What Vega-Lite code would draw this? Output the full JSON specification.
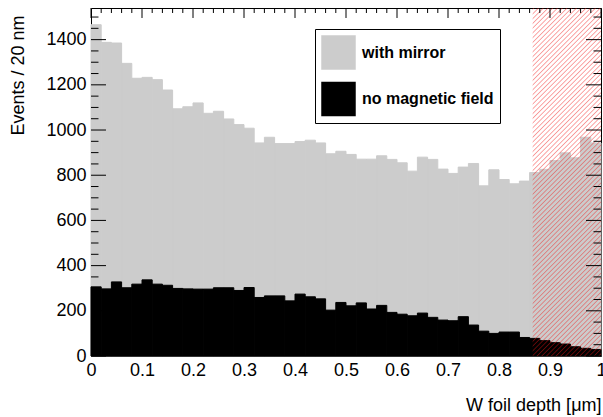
{
  "$schema": "https://vega.github.io/schema/vega-lite/v6.json",
  "autosize": {"type": "none"},
  "padding": {"left": 91, "top": 8, "right": 2, "bottom": 61},
  "width": 510,
  "height": 348,
  "config": {
    "view": {"stroke": null},
    "font": "Liberation Sans",
    "axis": {"labelFont": "Liberation Sans", "titleFont": "Liberation Sans", "labelColor": "black", "titleColor": "black", "domainColor": "black", "tickColor": "black", "tickWidth": 1, "domainWidth": 1, "grid": false}
  },
  "datasets": {
    "h": [
      {"a":0.00,"b":0.02,"m":1466,"f":306},
      {"a":0.02,"b":0.04,"m":1388,"f":297},
      {"a":0.04,"b":0.06,"m":1385,"f":328},
      {"a":0.06,"b":0.08,"m":1295,"f":302},
      {"a":0.08,"b":0.10,"m":1229,"f":318},
      {"a":0.10,"b":0.12,"m":1233,"f":337},
      {"a":0.12,"b":0.14,"m":1223,"f":318},
      {"a":0.14,"b":0.16,"m":1177,"f":313},
      {"a":0.16,"b":0.18,"m":1094,"f":299},
      {"a":0.18,"b":0.20,"m":1103,"f":297},
      {"a":0.20,"b":0.22,"m":1120,"f":296},
      {"a":0.22,"b":0.24,"m":1074,"f":296},
      {"a":0.24,"b":0.26,"m":1083,"f":302},
      {"a":0.26,"b":0.28,"m":1049,"f":302},
      {"a":0.28,"b":0.30,"m":1024,"f":290},
      {"a":0.30,"b":0.32,"m":1008,"f":303},
      {"a":0.32,"b":0.34,"m":943,"f":259},
      {"a":0.34,"b":0.36,"m":968,"f":266},
      {"a":0.36,"b":0.38,"m":940,"f":266},
      {"a":0.38,"b":0.40,"m":940,"f":244},
      {"a":0.40,"b":0.42,"m":949,"f":274},
      {"a":0.42,"b":0.44,"m":955,"f":262},
      {"a":0.44,"b":0.46,"m":943,"f":253},
      {"a":0.46,"b":0.48,"m":895,"f":203},
      {"a":0.48,"b":0.50,"m":906,"f":237},
      {"a":0.50,"b":0.52,"m":892,"f":222},
      {"a":0.52,"b":0.54,"m":871,"f":235},
      {"a":0.54,"b":0.56,"m":871,"f":208},
      {"a":0.56,"b":0.58,"m":886,"f":224},
      {"a":0.58,"b":0.60,"m":870,"f":193},
      {"a":0.60,"b":0.62,"m":855,"f":185},
      {"a":0.62,"b":0.64,"m":818,"f":178},
      {"a":0.64,"b":0.66,"m":880,"f":190},
      {"a":0.66,"b":0.68,"m":870,"f":171},
      {"a":0.68,"b":0.70,"m":827,"f":159},
      {"a":0.70,"b":0.72,"m":808,"f":156},
      {"a":0.72,"b":0.74,"m":836,"f":174},
      {"a":0.74,"b":0.76,"m":852,"f":137},
      {"a":0.76,"b":0.78,"m":753,"f":110},
      {"a":0.78,"b":0.80,"m":824,"f":100},
      {"a":0.80,"b":0.82,"m":781,"f":106},
      {"a":0.82,"b":0.84,"m":762,"f":106},
      {"a":0.84,"b":0.86,"m":774,"f":82},
      {"a":0.86,"b":0.88,"m":812,"f":78},
      {"a":0.88,"b":0.90,"m":826,"f":68},
      {"a":0.90,"b":0.92,"m":865,"f":59},
      {"a":0.92,"b":0.94,"m":899,"f":53},
      {"a":0.94,"b":0.96,"m":877,"f":41},
      {"a":0.96,"b":0.98,"m":968,"f":34},
      {"a":0.98,"b":1.00,"m":943,"f":29}
    ],
    "xMaj": [{"v":0},{"v":0.1},{"v":0.2},{"v":0.3},{"v":0.4},{"v":0.5},{"v":0.6},{"v":0.7},{"v":0.8},{"v":0.9},{"v":1}],
    "xMin": [{"v":0.02},{"v":0.04},{"v":0.06},{"v":0.08},{"v":0.12},{"v":0.14},{"v":0.16},{"v":0.18},{"v":0.22},{"v":0.24},{"v":0.26},{"v":0.28},{"v":0.32},{"v":0.34},{"v":0.36},{"v":0.38},{"v":0.42},{"v":0.44},{"v":0.46},{"v":0.48},{"v":0.52},{"v":0.54},{"v":0.56},{"v":0.58},{"v":0.62},{"v":0.64},{"v":0.66},{"v":0.68},{"v":0.72},{"v":0.74},{"v":0.76},{"v":0.78},{"v":0.82},{"v":0.84},{"v":0.86},{"v":0.88},{"v":0.92},{"v":0.94},{"v":0.96},{"v":0.98}],
    "yMaj": [{"v":0},{"v":200},{"v":400},{"v":600},{"v":800},{"v":1000},{"v":1200},{"v":1400}],
    "yMin": [{"v":50},{"v":100},{"v":150},{"v":250},{"v":300},{"v":350},{"v":450},{"v":500},{"v":550},{"v":650},{"v":700},{"v":750},{"v":850},{"v":900},{"v":950},{"v":1050},{"v":1100},{"v":1150},{"v":1250},{"v":1300},{"v":1350},{"v":1450},{"v":1500}]
  },
  "resolve": {"axis": {"x": "independent", "y": "independent"}},
  "layer": [
    {
      "data": {"name": "h"},
      "mark": {"type": "bar", "stroke": "#cccccc", "strokeWidth": 1},
      "encoding": {
        "x": {"field": "a", "type": "quantitative", "scale": {"domain": [0, 1], "nice": false, "zero": false},
          "axis": {"orient": "bottom", "values": [0,0.1,0.2,0.3,0.4,0.5,0.6,0.7,0.8,0.9,1], "format": "~g", "ticks": false, "domain": true, "labelFontSize": 18, "labelPadding": 5, "labelFlush": false, "labelOverlap": false,
            "title": "W foil depth [μm]", "titleFontSize": 18, "titleFontWeight": "normal", "titleAnchor": "end", "titleAlign": "right", "titleBaseline": "middle", "titleX": 510, "titleY": 49}},
        "x2": {"field": "b"},
        "y": {"field": "m", "type": "quantitative", "scale": {"domain": [0, 1540], "nice": false, "zero": false},
          "axis": {"orient": "left", "values": [0,200,400,600,800,1000,1200,1400], "format": "d", "ticks": false, "domain": true, "labelFontSize": 18, "labelPadding": 5, "labelFlush": false, "labelOverlap": false,
            "title": "Events / 20 nm", "titleFontSize": 18, "titleFontWeight": "normal", "titleAngle": -90, "titleAlign": "right", "titleBaseline": "middle", "titleX": -73, "titleY": 7}},
        "y2": {"datum": 0},
        "color": {"datum": "with mirror", "type": "nominal",
          "scale": {"domain": ["with mirror", "no magnetic field"], "range": ["#cccccc", "#000000"]},
          "legend": {"orient": "none", "legendX": 224, "legendY": 21, "title": null, "symbolType": "square", "symbolSize": 1190, "symbolStrokeWidth": 0, "symbolOpacity": 1,
            "labelFont": "Liberation Sans", "labelFontSize": 16, "labelFontWeight": "bold", "labelColor": "black", "labelOffset": 6, "rowPadding": 11.5,
            "padding": 6, "strokeColor": "black", "fillColor": "white", "cornerRadius": 0, "zindex": 2}}
      }
    },
    {
      "data": {"name": "h"},
      "mark": {"type": "bar", "stroke": "#000000", "strokeWidth": 1},
      "encoding": {
        "x": {"field": "a", "type": "quantitative",
          "axis": {"orient": "top", "labels": false, "domain": true, "ticks": false, "title": null}},
        "x2": {"field": "b"},
        "y": {"field": "f", "type": "quantitative",
          "axis": {"orient": "right", "labels": false, "domain": true, "ticks": false, "title": null}},
        "y2": {"datum": 0},
        "color": {"datum": "no magnetic field", "type": "nominal"}
      }
    },
    {
      "data": {"name": "h"},
      "transform": [{"filter": "datum.a == 0"}],
      "mark": {"type": "rect", "fill": {"gradient": "linear", "x1": 0, "y1": 0, "x2": 0.2261, "y2": 1.152, "stops": [
        {"offset":0,"color":"rgba(255,0,0,0)"},{"offset":0.00285,"color":"rgba(235,30,30,0.45)"},{"offset":0.0057,"color":"rgba(255,0,0,0)"},
        {"offset":0.0114,"color":"rgba(255,0,0,0)"},{"offset":0.01425,"color":"rgba(235,30,30,0.45)"},{"offset":0.0171,"color":"rgba(255,0,0,0)"},
        {"offset":0.0228,"color":"rgba(255,0,0,0)"},{"offset":0.02565,"color":"rgba(235,30,30,0.45)"},{"offset":0.0285,"color":"rgba(255,0,0,0)"},
        {"offset":0.0342,"color":"rgba(255,0,0,0)"},{"offset":0.03705,"color":"rgba(235,30,30,0.45)"},{"offset":0.0399,"color":"rgba(255,0,0,0)"},
        {"offset":0.0456,"color":"rgba(255,0,0,0)"},{"offset":0.04845,"color":"rgba(235,30,30,0.45)"},{"offset":0.0513,"color":"rgba(255,0,0,0)"},
        {"offset":0.057,"color":"rgba(255,0,0,0)"},{"offset":0.05985,"color":"rgba(235,30,30,0.45)"},{"offset":0.0627,"color":"rgba(255,0,0,0)"},
        {"offset":0.0684,"color":"rgba(255,0,0,0)"},{"offset":0.07125,"color":"rgba(235,30,30,0.45)"},{"offset":0.0741,"color":"rgba(255,0,0,0)"},
        {"offset":0.0798,"color":"rgba(255,0,0,0)"},{"offset":0.08265,"color":"rgba(235,30,30,0.45)"},{"offset":0.0855,"color":"rgba(255,0,0,0)"},
        {"offset":0.0912,"color":"rgba(255,0,0,0)"},{"offset":0.09405,"color":"rgba(235,30,30,0.45)"},{"offset":0.0969,"color":"rgba(255,0,0,0)"},
        {"offset":0.1026,"color":"rgba(255,0,0,0)"},{"offset":0.10545,"color":"rgba(235,30,30,0.45)"},{"offset":0.1083,"color":"rgba(255,0,0,0)"},
        {"offset":0.114,"color":"rgba(255,0,0,0)"},{"offset":0.11685,"color":"rgba(235,30,30,0.45)"},{"offset":0.1197,"color":"rgba(255,0,0,0)"},
        {"offset":0.1254,"color":"rgba(255,0,0,0)"},{"offset":0.12825,"color":"rgba(235,30,30,0.45)"},{"offset":0.1311,"color":"rgba(255,0,0,0)"},
        {"offset":0.1368,"color":"rgba(255,0,0,0)"},{"offset":0.13965,"color":"rgba(235,30,30,0.45)"},{"offset":0.1425,"color":"rgba(255,0,0,0)"},
        {"offset":0.1482,"color":"rgba(255,0,0,0)"},{"offset":0.15105,"color":"rgba(235,30,30,0.45)"},{"offset":0.1539,"color":"rgba(255,0,0,0)"},
        {"offset":0.1596,"color":"rgba(255,0,0,0)"},{"offset":0.16245,"color":"rgba(235,30,30,0.45)"},{"offset":0.1653,"color":"rgba(255,0,0,0)"},
        {"offset":0.171,"color":"rgba(255,0,0,0)"},{"offset":0.17385,"color":"rgba(235,30,30,0.45)"},{"offset":0.1767,"color":"rgba(255,0,0,0)"},
        {"offset":0.1824,"color":"rgba(255,0,0,0)"},{"offset":0.18525,"color":"rgba(235,30,30,0.45)"},{"offset":0.1881,"color":"rgba(255,0,0,0)"},
        {"offset":0.1938,"color":"rgba(255,0,0,0)"},{"offset":0.19665,"color":"rgba(235,30,30,0.45)"},{"offset":0.1995,"color":"rgba(255,0,0,0)"},
        {"offset":0.2052,"color":"rgba(255,0,0,0)"},{"offset":0.20805,"color":"rgba(235,30,30,0.45)"},{"offset":0.2109,"color":"rgba(255,0,0,0)"},
        {"offset":0.2166,"color":"rgba(255,0,0,0)"},{"offset":0.21945,"color":"rgba(235,30,30,0.45)"},{"offset":0.2223,"color":"rgba(255,0,0,0)"},
        {"offset":0.228,"color":"rgba(255,0,0,0)"},{"offset":0.23085,"color":"rgba(235,30,30,0.45)"},{"offset":0.2337,"color":"rgba(255,0,0,0)"},
        {"offset":0.2394,"color":"rgba(255,0,0,0)"},{"offset":0.24225,"color":"rgba(235,30,30,0.45)"},{"offset":0.2451,"color":"rgba(255,0,0,0)"},
        {"offset":0.2508,"color":"rgba(255,0,0,0)"},{"offset":0.25365,"color":"rgba(235,30,30,0.45)"},{"offset":0.2565,"color":"rgba(255,0,0,0)"},
        {"offset":0.2622,"color":"rgba(255,0,0,0)"},{"offset":0.26505,"color":"rgba(235,30,30,0.45)"},{"offset":0.2679,"color":"rgba(255,0,0,0)"},
        {"offset":0.2736,"color":"rgba(255,0,0,0)"},{"offset":0.27645,"color":"rgba(235,30,30,0.45)"},{"offset":0.2793,"color":"rgba(255,0,0,0)"},
        {"offset":0.285,"color":"rgba(255,0,0,0)"},{"offset":0.28785,"color":"rgba(235,30,30,0.45)"},{"offset":0.2907,"color":"rgba(255,0,0,0)"},
        {"offset":0.2964,"color":"rgba(255,0,0,0)"},{"offset":0.29925,"color":"rgba(235,30,30,0.45)"},{"offset":0.3021,"color":"rgba(255,0,0,0)"},
        {"offset":0.3078,"color":"rgba(255,0,0,0)"},{"offset":0.31065,"color":"rgba(235,30,30,0.45)"},{"offset":0.3135,"color":"rgba(255,0,0,0)"},
        {"offset":0.3192,"color":"rgba(255,0,0,0)"},{"offset":0.32205,"color":"rgba(235,30,30,0.45)"},{"offset":0.3249,"color":"rgba(255,0,0,0)"},
        {"offset":0.3306,"color":"rgba(255,0,0,0)"},{"offset":0.33345,"color":"rgba(235,30,30,0.45)"},{"offset":0.3363,"color":"rgba(255,0,0,0)"},
        {"offset":0.342,"color":"rgba(255,0,0,0)"},{"offset":0.34485,"color":"rgba(235,30,30,0.45)"},{"offset":0.3477,"color":"rgba(255,0,0,0)"},
        {"offset":0.3534,"color":"rgba(255,0,0,0)"},{"offset":0.35625,"color":"rgba(235,30,30,0.45)"},{"offset":0.3591,"color":"rgba(255,0,0,0)"},
        {"offset":0.3648,"color":"rgba(255,0,0,0)"},{"offset":0.36765,"color":"rgba(235,30,30,0.45)"},{"offset":0.3705,"color":"rgba(255,0,0,0)"},
        {"offset":0.3762,"color":"rgba(255,0,0,0)"},{"offset":0.37905,"color":"rgba(235,30,30,0.45)"},{"offset":0.3819,"color":"rgba(255,0,0,0)"},
        {"offset":0.3876,"color":"rgba(255,0,0,0)"},{"offset":0.39045,"color":"rgba(235,30,30,0.45)"},{"offset":0.3933,"color":"rgba(255,0,0,0)"},
        {"offset":0.399,"color":"rgba(255,0,0,0)"},{"offset":0.40185,"color":"rgba(235,30,30,0.45)"},{"offset":0.4047,"color":"rgba(255,0,0,0)"},
        {"offset":0.4104,"color":"rgba(255,0,0,0)"},{"offset":0.41325,"color":"rgba(235,30,30,0.45)"},{"offset":0.4161,"color":"rgba(255,0,0,0)"},
        {"offset":0.4218,"color":"rgba(255,0,0,0)"},{"offset":0.42465,"color":"rgba(235,30,30,0.45)"},{"offset":0.4275,"color":"rgba(255,0,0,0)"},
        {"offset":0.4332,"color":"rgba(255,0,0,0)"},{"offset":0.43605,"color":"rgba(235,30,30,0.45)"},{"offset":0.4389,"color":"rgba(255,0,0,0)"},
        {"offset":0.4446,"color":"rgba(255,0,0,0)"},{"offset":0.44745,"color":"rgba(235,30,30,0.45)"},{"offset":0.4503,"color":"rgba(255,0,0,0)"},
        {"offset":0.456,"color":"rgba(255,0,0,0)"},{"offset":0.45885,"color":"rgba(235,30,30,0.45)"},{"offset":0.4617,"color":"rgba(255,0,0,0)"},
        {"offset":0.4674,"color":"rgba(255,0,0,0)"},{"offset":0.47025,"color":"rgba(235,30,30,0.45)"},{"offset":0.4731,"color":"rgba(255,0,0,0)"},
        {"offset":0.4788,"color":"rgba(255,0,0,0)"},{"offset":0.48165,"color":"rgba(235,30,30,0.45)"},{"offset":0.4845,"color":"rgba(255,0,0,0)"},
        {"offset":0.4902,"color":"rgba(255,0,0,0)"},{"offset":0.49305,"color":"rgba(235,30,30,0.45)"},{"offset":0.4959,"color":"rgba(255,0,0,0)"},
        {"offset":0.5016,"color":"rgba(255,0,0,0)"},{"offset":0.50445,"color":"rgba(235,30,30,0.45)"},{"offset":0.5073,"color":"rgba(255,0,0,0)"},
        {"offset":0.513,"color":"rgba(255,0,0,0)"},{"offset":0.51585,"color":"rgba(235,30,30,0.45)"},{"offset":0.5187,"color":"rgba(255,0,0,0)"},
        {"offset":0.5244,"color":"rgba(255,0,0,0)"},{"offset":0.52725,"color":"rgba(235,30,30,0.45)"},{"offset":0.5301,"color":"rgba(255,0,0,0)"},
        {"offset":0.5358,"color":"rgba(255,0,0,0)"},{"offset":0.53865,"color":"rgba(235,30,30,0.45)"},{"offset":0.5415,"color":"rgba(255,0,0,0)"},
        {"offset":0.5472,"color":"rgba(255,0,0,0)"},{"offset":0.55005,"color":"rgba(235,30,30,0.45)"},{"offset":0.5529,"color":"rgba(255,0,0,0)"},
        {"offset":0.5586,"color":"rgba(255,0,0,0)"},{"offset":0.56145,"color":"rgba(235,30,30,0.45)"},{"offset":0.5643,"color":"rgba(255,0,0,0)"},
        {"offset":0.57,"color":"rgba(255,0,0,0)"},{"offset":0.57285,"color":"rgba(235,30,30,0.45)"},{"offset":0.5757,"color":"rgba(255,0,0,0)"},
        {"offset":0.5814,"color":"rgba(255,0,0,0)"},{"offset":0.58425,"color":"rgba(235,30,30,0.45)"},{"offset":0.5871,"color":"rgba(255,0,0,0)"},
        {"offset":0.5928,"color":"rgba(255,0,0,0)"},{"offset":0.59565,"color":"rgba(235,30,30,0.45)"},{"offset":0.5985,"color":"rgba(255,0,0,0)"},
        {"offset":0.6042,"color":"rgba(255,0,0,0)"},{"offset":0.60705,"color":"rgba(235,30,30,0.45)"},{"offset":0.6099,"color":"rgba(255,0,0,0)"},
        {"offset":0.6156,"color":"rgba(255,0,0,0)"},{"offset":0.61845,"color":"rgba(235,30,30,0.45)"},{"offset":0.6213,"color":"rgba(255,0,0,0)"},
        {"offset":0.627,"color":"rgba(255,0,0,0)"},{"offset":0.62985,"color":"rgba(235,30,30,0.45)"},{"offset":0.6327,"color":"rgba(255,0,0,0)"},
        {"offset":0.6384,"color":"rgba(255,0,0,0)"},{"offset":0.64125,"color":"rgba(235,30,30,0.45)"},{"offset":0.6441,"color":"rgba(255,0,0,0)"},
        {"offset":0.6498,"color":"rgba(255,0,0,0)"},{"offset":0.65265,"color":"rgba(235,30,30,0.45)"},{"offset":0.6555,"color":"rgba(255,0,0,0)"},
        {"offset":0.6612,"color":"rgba(255,0,0,0)"},{"offset":0.66405,"color":"rgba(235,30,30,0.45)"},{"offset":0.6669,"color":"rgba(255,0,0,0)"},
        {"offset":0.6726,"color":"rgba(255,0,0,0)"},{"offset":0.67545,"color":"rgba(235,30,30,0.45)"},{"offset":0.6783,"color":"rgba(255,0,0,0)"},
        {"offset":0.684,"color":"rgba(255,0,0,0)"},{"offset":0.68685,"color":"rgba(235,30,30,0.45)"},{"offset":0.6897,"color":"rgba(255,0,0,0)"},
        {"offset":0.6954,"color":"rgba(255,0,0,0)"},{"offset":0.69825,"color":"rgba(235,30,30,0.45)"},{"offset":0.7011,"color":"rgba(255,0,0,0)"},
        {"offset":0.7068,"color":"rgba(255,0,0,0)"},{"offset":0.70965,"color":"rgba(235,30,30,0.45)"},{"offset":0.7125,"color":"rgba(255,0,0,0)"},
        {"offset":0.7182,"color":"rgba(255,0,0,0)"},{"offset":0.72105,"color":"rgba(235,30,30,0.45)"},{"offset":0.7239,"color":"rgba(255,0,0,0)"},
        {"offset":0.7296,"color":"rgba(255,0,0,0)"},{"offset":0.73245,"color":"rgba(235,30,30,0.45)"},{"offset":0.7353,"color":"rgba(255,0,0,0)"},
        {"offset":0.741,"color":"rgba(255,0,0,0)"},{"offset":0.74385,"color":"rgba(235,30,30,0.45)"},{"offset":0.7467,"color":"rgba(255,0,0,0)"},
        {"offset":0.7524,"color":"rgba(255,0,0,0)"},{"offset":0.75525,"color":"rgba(235,30,30,0.45)"},{"offset":0.7581,"color":"rgba(255,0,0,0)"},
        {"offset":0.7638,"color":"rgba(255,0,0,0)"},{"offset":0.76665,"color":"rgba(235,30,30,0.45)"},{"offset":0.7695,"color":"rgba(255,0,0,0)"},
        {"offset":0.7752,"color":"rgba(255,0,0,0)"},{"offset":0.77805,"color":"rgba(235,30,30,0.45)"},{"offset":0.7809,"color":"rgba(255,0,0,0)"},
        {"offset":0.7866,"color":"rgba(255,0,0,0)"},{"offset":0.78945,"color":"rgba(235,30,30,0.45)"},{"offset":0.7923,"color":"rgba(255,0,0,0)"},
        {"offset":0.798,"color":"rgba(255,0,0,0)"},{"offset":0.80085,"color":"rgba(235,30,30,0.45)"},{"offset":0.8037,"color":"rgba(255,0,0,0)"},
        {"offset":0.8094,"color":"rgba(255,0,0,0)"},{"offset":0.81225,"color":"rgba(235,30,30,0.45)"},{"offset":0.8151,"color":"rgba(255,0,0,0)"},
        {"offset":0.8208,"color":"rgba(255,0,0,0)"},{"offset":0.82365,"color":"rgba(235,30,30,0.45)"},{"offset":0.8265,"color":"rgba(255,0,0,0)"},
        {"offset":0.8322,"color":"rgba(255,0,0,0)"},{"offset":0.83505,"color":"rgba(235,30,30,0.45)"},{"offset":0.8379,"color":"rgba(255,0,0,0)"},
        {"offset":0.8436,"color":"rgba(255,0,0,0)"},{"offset":0.84645,"color":"rgba(235,30,30,0.45)"},{"offset":0.8493,"color":"rgba(255,0,0,0)"},
        {"offset":0.855,"color":"rgba(255,0,0,0)"},{"offset":0.85785,"color":"rgba(235,30,30,0.45)"},{"offset":0.8607,"color":"rgba(255,0,0,0)"},
        {"offset":0.8664,"color":"rgba(255,0,0,0)"},{"offset":0.86925,"color":"rgba(235,30,30,0.45)"},{"offset":0.8721,"color":"rgba(255,0,0,0)"},
        {"offset":0.8778,"color":"rgba(255,0,0,0)"},{"offset":0.88065,"color":"rgba(235,30,30,0.45)"},{"offset":0.8835,"color":"rgba(255,0,0,0)"},
        {"offset":0.8892,"color":"rgba(255,0,0,0)"},{"offset":0.89205,"color":"rgba(235,30,30,0.45)"},{"offset":0.8949,"color":"rgba(255,0,0,0)"},
        {"offset":0.9006,"color":"rgba(255,0,0,0)"},{"offset":0.90345,"color":"rgba(235,30,30,0.45)"},{"offset":0.9063,"color":"rgba(255,0,0,0)"},
        {"offset":0.912,"color":"rgba(255,0,0,0)"},{"offset":0.91485,"color":"rgba(235,30,30,0.45)"},{"offset":0.9177,"color":"rgba(255,0,0,0)"},
        {"offset":0.9234,"color":"rgba(255,0,0,0)"},{"offset":0.92625,"color":"rgba(235,30,30,0.45)"},{"offset":0.9291,"color":"rgba(255,0,0,0)"},
        {"offset":0.9348,"color":"rgba(255,0,0,0)"},{"offset":0.93765,"color":"rgba(235,30,30,0.45)"},{"offset":0.9405,"color":"rgba(255,0,0,0)"},
        {"offset":0.9462,"color":"rgba(255,0,0,0)"},{"offset":0.94905,"color":"rgba(235,30,30,0.45)"},{"offset":0.9519,"color":"rgba(255,0,0,0)"},
        {"offset":0.9576,"color":"rgba(255,0,0,0)"},{"offset":0.96045,"color":"rgba(235,30,30,0.45)"},{"offset":0.9633,"color":"rgba(255,0,0,0)"},
        {"offset":0.969,"color":"rgba(255,0,0,0)"},{"offset":0.97185,"color":"rgba(235,30,30,0.45)"},{"offset":0.9747,"color":"rgba(255,0,0,0)"},
        {"offset":0.9804,"color":"rgba(255,0,0,0)"},{"offset":0.98325,"color":"rgba(235,30,30,0.45)"},{"offset":0.9861,"color":"rgba(255,0,0,0)"},
        {"offset":0.9918,"color":"rgba(255,0,0,0)"},{"offset":0.99465,"color":"rgba(235,30,30,0.45)"},{"offset":0.9975,"color":"rgba(255,0,0,0)"}
      ]}},
      "encoding": {
        "x": {"datum": 0.866, "type": "quantitative", "axis": null},
        "x2": {"datum": 1},
        "y": {"datum": 0, "type": "quantitative", "axis": null},
        "y2": {"datum": 1540}
      }
    },
    {
      "data": {"name": "yMaj"},
      "mark": {"type": "rule", "color": "black", "strokeWidth": 1},
      "encoding": {
        "y": {"field": "v", "type": "quantitative", "axis": null},
        "x": {"datum": 0, "type": "quantitative", "axis": null},
        "x2": {"datum": 0.0294}
      }
    },
    {
      "data": {"name": "yMin"},
      "mark": {"type": "rule", "color": "black", "strokeWidth": 1},
      "encoding": {
        "y": {"field": "v", "type": "quantitative", "axis": null},
        "x": {"datum": 0, "type": "quantitative", "axis": null},
        "x2": {"datum": 0.0147}
      }
    },
    {
      "data": {"name": "yMaj"},
      "mark": {"type": "rule", "color": "black", "strokeWidth": 1},
      "encoding": {
        "y": {"field": "v", "type": "quantitative", "axis": null},
        "x": {"datum": 0.9706, "type": "quantitative", "axis": null},
        "x2": {"datum": 1}
      }
    },
    {
      "data": {"name": "yMin"},
      "mark": {"type": "rule", "color": "black", "strokeWidth": 1},
      "encoding": {
        "y": {"field": "v", "type": "quantitative", "axis": null},
        "x": {"datum": 0.9853, "type": "quantitative", "axis": null},
        "x2": {"datum": 1}
      }
    },
    {
      "data": {"name": "xMaj"},
      "mark": {"type": "rule", "color": "black", "strokeWidth": 1},
      "encoding": {
        "x": {"field": "v", "type": "quantitative", "axis": null},
        "y": {"datum": 1495.75, "type": "quantitative", "axis": null},
        "y2": {"datum": 1540}
      }
    },
    {
      "data": {"name": "xMin"},
      "mark": {"type": "rule", "color": "black", "strokeWidth": 1},
      "encoding": {
        "x": {"field": "v", "type": "quantitative", "axis": null},
        "y": {"datum": 1517.9, "type": "quantitative", "axis": null},
        "y2": {"datum": 1540}
      }
    }
  ]
}
